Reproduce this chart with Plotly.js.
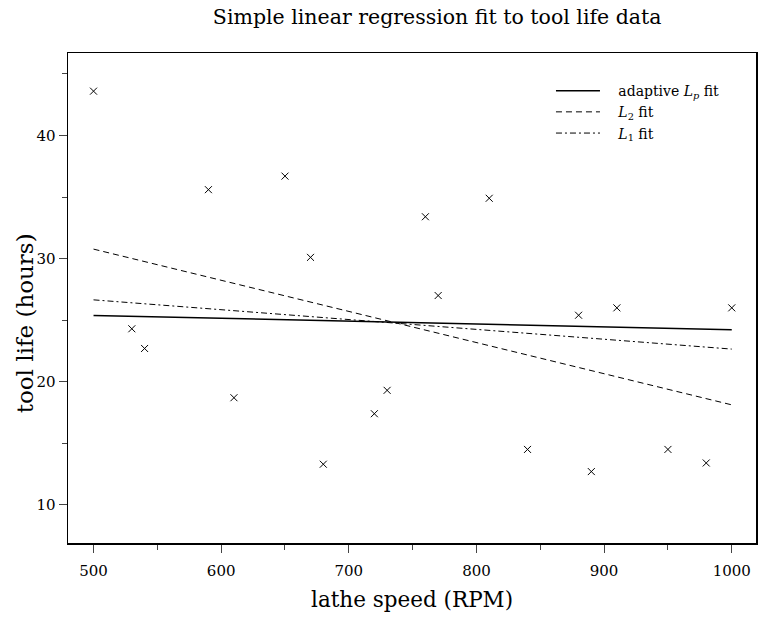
<!DOCTYPE html>
<html>
<head>
<meta charset="utf-8">
<script src="https://cdn.plot.ly/plotly-3.0.1.min.js"></script>
<style>html,body{margin:0;padding:0;background:#fff;}#chart{width:759px;height:618px;}</style>
</head>
<body>
<div id="chart"></div>
<script>
// Observed data: lathe speed (RPM) vs tool life (hours)
const speed = [500, 530, 540, 590, 610, 650, 670, 680, 720, 730, 760, 770, 810, 840, 880, 890, 910, 950, 980, 1000];
const life  = [43.6, 24.3, 22.7, 35.6, 18.7, 36.7, 30.1, 13.3, 17.4, 19.3, 33.4, 27.0, 34.9, 14.5, 25.4, 12.7, 26.0, 14.5, 13.4, 26.0];

// Fitted lines (endpoints)
const fitX   = [500, 1000];
const fitLp  = [25.38, 24.22];
const fitL2  = [30.77, 18.12];
const fitL1  = [26.65, 22.65];

// Tick labels
const xTicks = [500, 600, 700, 800, 900, 1000];
const xMinor = [550, 650, 750, 850, 950];
const yTicks = [10, 20, 30, 40];
const yMinor = [15, 25, 35, 45];

const FONT = "DejaVu Serif, Liberation Serif, serif";

const traces = [
  {x: speed, y: life, mode: 'markers', type: 'scatter', showlegend: false,
   marker: {symbol: 'x-thin-open', size: 7, color: '#000', line: {width: 1, color: '#000'}}},
  {x: fitX, y: fitLp, mode: 'lines', type: 'scatter', name: '   adaptive <i>L<sub>p</sub></i> fit',
   line: {color: '#000', width: 1.5, dash: 'solid'}},
  {x: fitX, y: fitL2, mode: 'lines', type: 'scatter', name: '   <i>L</i><sub>2</sub> fit',
   line: {color: '#000', width: 1, dash: '6px,4px'}},
  {x: fitX, y: fitL1, mode: 'lines', type: 'scatter', name: '   <i>L</i><sub>1</sub> fit',
   line: {color: '#000', width: 1, dash: '6px,3px,2px,3px'}}
];

const layout = {
  width: 759, height: 618,
  margin: {l: 67.5, r: 3, t: 53, b: 75},
  paper_bgcolor: '#fff', plot_bgcolor: '#fff',
  font: {family: FONT, color: '#000', size: 15},
  title: {text: 'Simple linear regression fit to tool life data', font: {family: FONT, size: 20.5, color: '#000'},
          x: 0.576, xref: 'container', xanchor: 'center', y: 0.973, yref: 'container', yanchor: 'middle'},
  xaxis: {range: [480, 1019], tickvals: xTicks, ticks: 'outside', ticklen: 8, tickwidth: 1,
          showline: true, linewidth: 1.5, linecolor: '#000', mirror: true, showgrid: false, zeroline: false,
          minor: {tickvals: xMinor, ticks: 'outside', ticklen: 5, tickwidth: 1, showgrid: false},
          tickfont: {family: FONT, size: 15}, ticklabelstandoff: 5, title: {text: ''}},
  yaxis: {range: [6.9, 46.7], tickvals: yTicks, ticks: 'outside', ticklen: 8, tickwidth: 1,
          showline: true, linewidth: 1.5, linecolor: '#000', mirror: true, showgrid: false, zeroline: false,
          minor: {tickvals: yMinor, ticks: 'outside', ticklen: 5, tickwidth: 1, showgrid: false},
          tickfont: {family: FONT, size: 15}, title: {text: ''}},
  showlegend: true,
  legend: {x: 0.702, y: 0.955, xanchor: 'left', yanchor: 'top', bgcolor: 'rgba(0,0,0,0)', borderwidth: 0,
           font: {family: FONT, size: 14}, tracegroupgap: 0, itemwidth: 44},
  annotations: [
    {text: 'lathe speed (RPM)', xref: 'paper', yref: 'paper', x: 0.5, y: -0.116, xanchor: 'center', yanchor: 'middle',
     showarrow: false, font: {family: FONT, size: 21.5}},
    {text: 'tool life (hours)', xref: 'paper', yref: 'paper', x: -0.062, y: 0.449, xanchor: 'center', yanchor: 'middle',
     textangle: -90, showarrow: false, font: {family: FONT, size: 23}}
  ]
};

Plotly.newPlot('chart', traces, layout, {displayModeBar: false, staticPlot: true});
</script>
</body>
</html>
